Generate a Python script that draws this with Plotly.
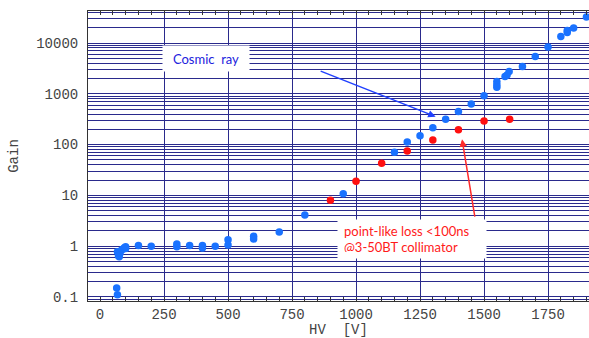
import plotly.graph_objects as go

# ---- data ----
blue_hv = [65, 68, 68, 72, 75, 78, 85, 90, 95, 100, 100, 150, 200, 300, 300, 350, 400, 400, 450,
           500, 500, 600, 600, 700, 800, 950, 1150, 1200, 1250, 1300, 1350, 1400, 1450, 1500,
           1550, 1550, 1550, 1582, 1590, 1598, 1650, 1700, 1750, 1800, 1825, 1825, 1850, 1900]
blue_gain = [0.15, 0.11, 0.78, 0.65, 0.62, 0.72, 0.85, 0.88, 0.93, 0.9, 0.97, 1.03, 1.0, 1.1, 0.97,
             1.03, 1.03, 0.92, 1.0, 1.33, 1.05, 1.57, 1.39, 1.89, 4.1, 10.8, 71, 113, 150, 215,
             316, 450, 630, 915, 1740, 1510, 1345, 2180, 2350, 2740, 3460, 5400, 8350, 13400,
             17700, 16100, 19700, 32500]
red_hv = [900, 1000, 1100, 1200, 1300, 1400, 1500, 1600]
red_gain = [8.0, 18.9, 43, 75, 123, 195, 292, 316]

x_tick_vals = [0, 250, 500, 750, 1000, 1250, 1500, 1750]
x_grid_vals = [250, 500, 750, 1000, 1250, 1500, 1750]
y_tick_vals = [0.1, 1, 10, 100, 1000, 10000]
y_tick_text = ["0.1", "1", "10", "100", "1000", "10000"]
y_minor_vals = [m * 10 ** k for k in range(-2, 5) for m in range(1, 10)]

GRID = "#2a2a8c"
MONO = "Liberation Mono"

fig = go.Figure()
fig.add_trace(go.Scatter(x=blue_hv, y=blue_gain, mode="markers",
                         marker=dict(color="#1a72ff", size=7.5), showlegend=False))
fig.add_trace(go.Scatter(x=red_hv, y=red_gain, mode="markers",
                         marker=dict(color="#ff1010", size=7.5), showlegend=False))
# dummy trace for grid overlay axis
fig.add_trace(go.Scatter(x=[None], y=[None], xaxis="x2", showlegend=False))

XR = [-47, 1910]
YR = [-1.08, 4.63]

fig.update_layout(
    width=589, height=338,
    margin=dict(l=88, r=0, t=11, b=37),
    paper_bgcolor="white", plot_bgcolor="white",
    xaxis=dict(range=XR, tickvals=x_tick_vals, showgrid=False, zeroline=False, automargin=False,
               showline=True, linecolor="#333", linewidth=1, mirror="allticks",
               ticks="inside", ticklen=4, tickcolor="#333",
               minor=dict(dtick=50, ticks="inside", ticklen=4, tickcolor="#333", showgrid=False),
               tickfont=dict(family=MONO, size=14, color="#444"),
               title=dict(text="HV  [V]", font=dict(family=MONO, size=14, color="#444"), standoff=2)),
    xaxis2=dict(range=XR, overlaying="x", tickvals=x_grid_vals, showgrid=True, automargin=False,
                gridcolor=GRID, gridwidth=1, showticklabels=False, zeroline=False,
                showline=False, ticks=""),
    yaxis=dict(type="log", range=YR, tickvals=y_tick_vals, ticktext=y_tick_text, automargin=False,
               showgrid=True, gridcolor=GRID, gridwidth=1, zeroline=False,
               showline=True, linecolor="#333", linewidth=1, ticks="", ticklabelstandoff=6,
               minor=dict(tickvals=y_minor_vals, showgrid=True, gridcolor=GRID, gridwidth=1, ticks=""),
               tickfont=dict(family=MONO, size=14, color="#444"),
               title=dict(text="Gain", font=dict(family=MONO, size=14, color="#444"), standoff=14)),
    annotations=[
        dict(x=1311, y=2.55, ax=856, ay=3.457, xref="x", yref="y", axref="x", ayref="y",
             text="", showarrow=True, arrowhead=2, arrowsize=1, arrowwidth=1.5, arrowcolor="#2040ff"),
        dict(x=1414, y=2.105, ax=1465, ay=0.552, xref="x", yref="y", axref="x", ayref="y",
             text="", showarrow=True, arrowhead=2, arrowsize=1, arrowwidth=1.5, arrowcolor="#ff2a2a"),
        dict(x=414, y=3.70, xref="x", yref="y", text="Cosmic  ray", showarrow=False,
             bgcolor="white", width=86, height=25, borderpad=0,
             font=dict(family="Lato", size=13, color="#2222dd")),
        dict(x=1219, y=0.138, xref="x", yref="y",
             text="point-like loss &lt;100ns<br>@3-50BT collimator", showarrow=False,
             align="left", bgcolor="white", width=136, height=26, borderpad=6,
             font=dict(family="Lato", size=13, color="#ff1a1a")),
    ],
)

fig.write_html("out.html", config={"displayModeBar": False},
               post_script="document.body.style.margin='0';document.body.style.overflow='hidden';")
